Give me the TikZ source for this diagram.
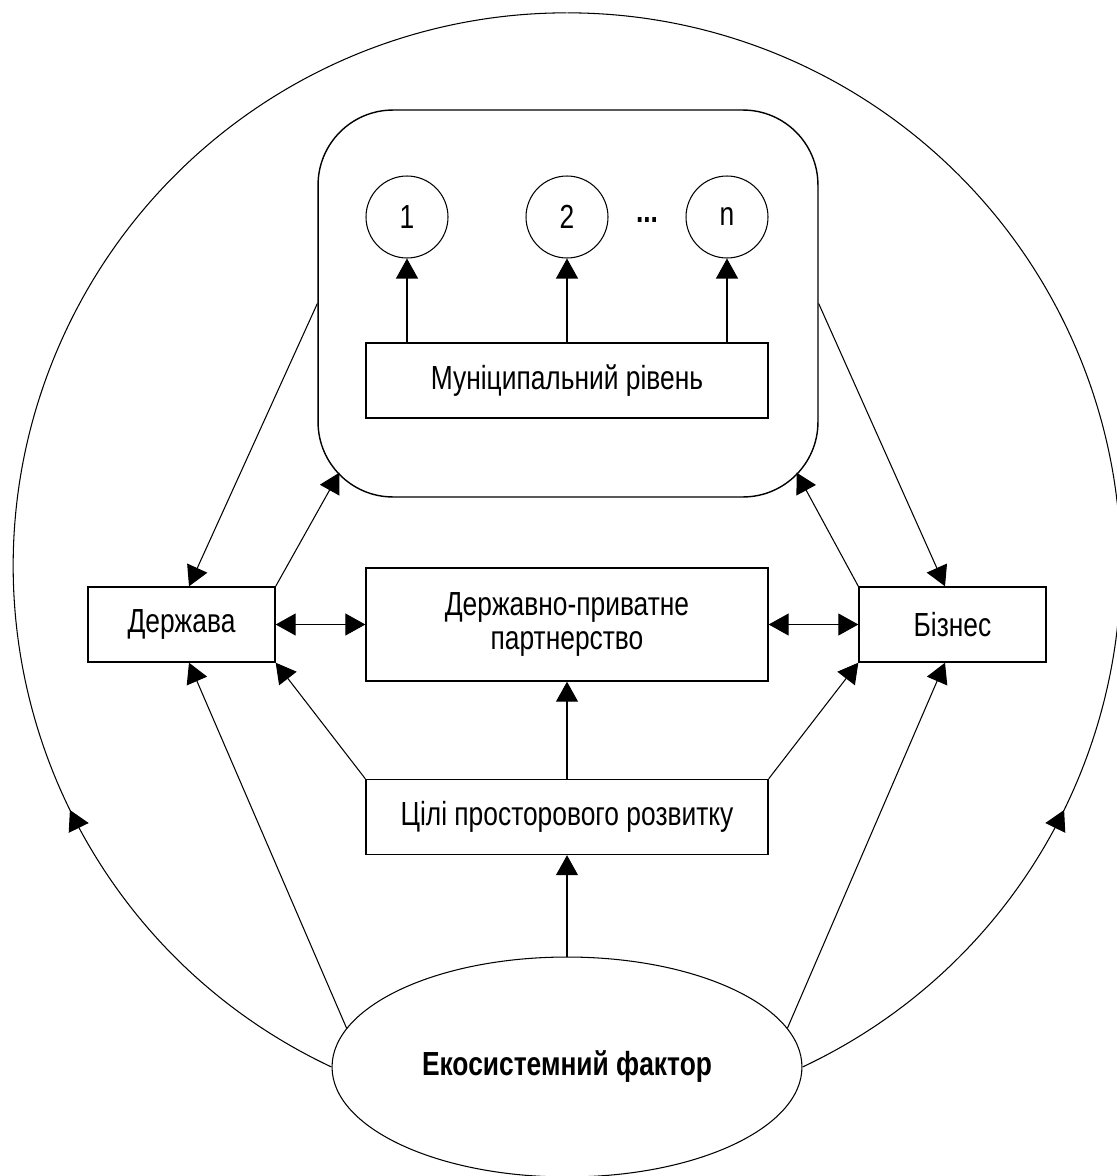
\documentclass[tikz,border=0pt]{standalone}
\usepackage{fontspec}
\setmainfont{Liberation Sans}[FakeStretch=0.79]
\usetikzlibrary{arrows.meta,shapes.geometric,decorations.markings}

\begin{document}
\begin{tikzpicture}[x=0.02cm, y=0.02cm,
        font=\fontsize{19pt}{19pt}\selectfont,
        >={Triangle[length=0.4cm, width=0.44cm]},
        box/.style={draw, rectangle, line width=0.8pt, minimum width=8.04cm, minimum height=1.5cm, align=center},
        num/.style={draw, circle, line width=0.6pt, minimum size=1.64cm, inner sep=0pt},
        link/.style={line width=0.6pt},
        midarr/.style={line width=0.6pt, postaction={decorate},
            decoration={markings, mark=at position 0.25 with {\arrow{>}}}}]
    \useasboundingbox (0,0) rectangle (1116,-1176);

    \node[draw, rectangle, rounded corners=1.5cm, line width=0.8pt, minimum width=10cm, minimum height=7.74cm] (grp) at (568,-303.5) {};

    \node[num] (c1) at (407,-217) {1};
    \node[num] (c2) at (567,-217) {2};
    \node[num] (cn) at (727,-217) {n};
    \node (dots) at (647,-220) {\textbf{...}};

    \node[box] (mun) at (567,-380.5) {Муніципальний рівень};
    \node[box, minimum width=3.74cm] (state) at (181.5,-624.5) {Держава};
    \node[box, minimum height=2.26cm] (ppp) at (567,-624.5) {Державно-приватне\\партнерство};
    \node[box, minimum width=3.74cm] (biz) at (952.5,-624.5) {Бізнес};
    \node[box] (goals) at (567,-817) {Цілі просторового розвитку};
    \node[draw, ellipse, line width=0.6pt, minimum width=9.4cm, minimum height=4.4cm] (eco) at (567,-1067) {\textbf{Екосистемний фактор}};

    \draw[link, ->] (mun.north -| c1) -- (c1);
    \draw[link, ->] (mun.north -| c2) -- (c2);
    \draw[link, ->] (mun.north -| cn) -- (cn);

    \draw[link, ->] (grp.west) -- ([xshift=0.15cm]state.north);
    \draw[link, ->] (state.north east) -- ([shift={(22,25)}]grp.south west);
    \draw[link, ->] (grp.east) -- ([xshift=-0.15cm]biz.north);
    \draw[link, ->] (biz.north west) -- ([shift={(-22,25)}]grp.south east);

    \draw[link, <->] (state) -- (ppp);
    \draw[link, <->] (ppp) -- (biz);

    \draw[link, ->] (goals) -- (ppp);
    \draw[link, ->] (goals.north west) -- (state.south east);
    \draw[link, ->] (goals.north east) -- (biz.south west);
    \draw[link, ->] (eco) -- (goals);
    \draw[link, ->] (eco.170) -- ([xshift=0.15cm]state.south);
    \draw[link, ->] (eco.10) -- ([xshift=-0.15cm]biz.south);

    \draw[midarr] (eco.west) arc[start angle=244.86, end angle=90, radius=11.068cm];
    \draw[midarr] (eco.east) arc[start angle=295.14, end angle=450, radius=11.068cm];
\end{tikzpicture}
\end{document}
